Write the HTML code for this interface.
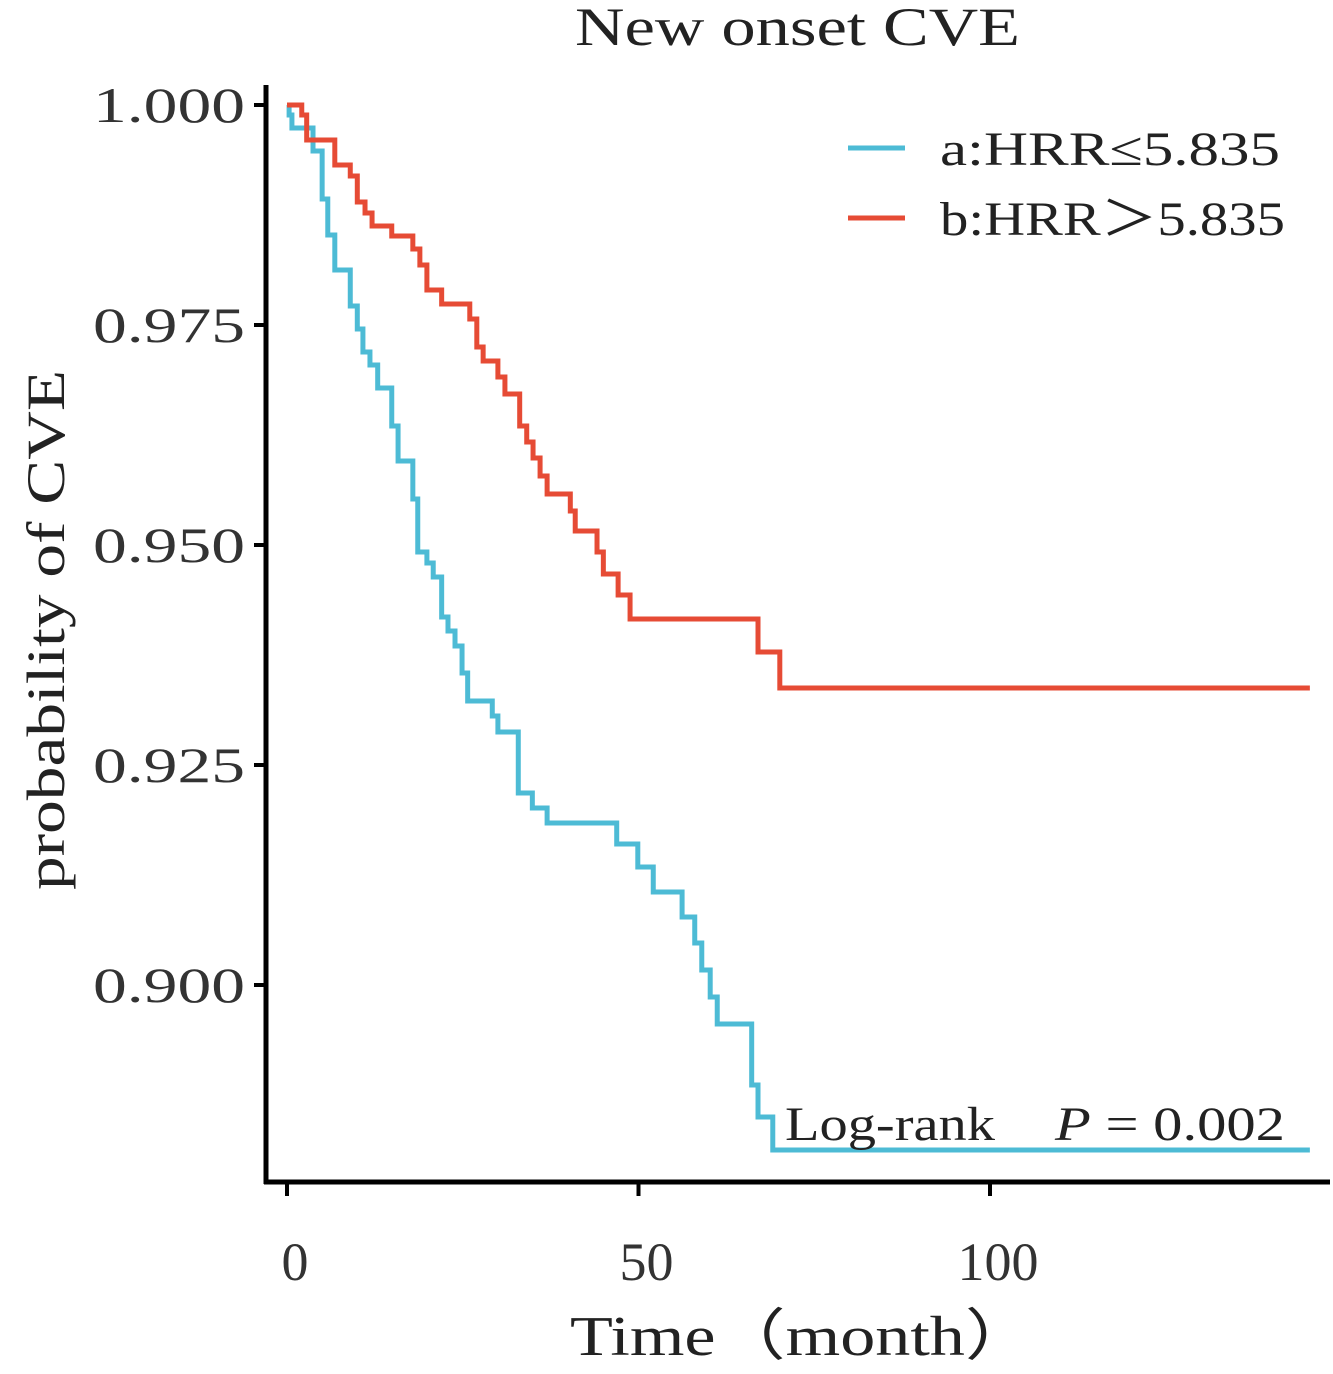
<!DOCTYPE html>
<html><head><meta charset="utf-8"><style>
html,body{margin:0;padding:0;background:#fff;}
svg text{font-family:"Liberation Serif",serif;}
</style></head><body>
<svg id="chart" width="1333" height="1369" viewBox="0 0 1333 1369" xmlns="http://www.w3.org/2000/svg">
<text x="575" y="45" font-size="54" textLength="445" lengthAdjust="spacingAndGlyphs" fill="#222">New onset CVE</text>
<text transform="translate(64,630) rotate(-90)" font-size="54" text-anchor="middle" textLength="520" lengthAdjust="spacingAndGlyphs" fill="#222">probability of CVE</text>
<text x="570" y="1355" font-size="56" textLength="465" lengthAdjust="spacingAndGlyphs" fill="#222">Time（month）</text>
<g id="axes"></g>
<g id="curves"></g>
<g>
<line x1="848" y1="148" x2="905" y2="148" stroke="#4dbbd5" stroke-width="5"/>
<text x="940" y="165" font-size="48" textLength="340" lengthAdjust="spacingAndGlyphs" fill="#222">a:HRR≤5.835</text>
<line x1="848" y1="218" x2="905" y2="218" stroke="#e64b35" stroke-width="5"/>
<text x="940" y="235" font-size="48" textLength="345" lengthAdjust="spacingAndGlyphs" fill="#222">b:HRR＞5.835</text>
</g>
<text x="785" y="1140" font-size="48" textLength="210" lengthAdjust="spacingAndGlyphs" fill="#222">Log-rank</text>
<text x="1055" y="1140" font-size="48" textLength="230" lengthAdjust="spacingAndGlyphs" fill="#222"><tspan font-style="italic">P</tspan> = 0.002</text>
</svg>
<script>
const xTicks = [0, 50, 100];
const xTickLabels = ["0", "50", "100"];
const yTicks = [1.000, 0.975, 0.950, 0.925, 0.900];
const yTickLabels = ["1.000", "0.975", "0.950", "0.925", "0.900"];
const tEnd = 145.5;
const timesA = [0, 0.3, 0.7, 3.7, 5.0, 5.8, 6.8, 9.0, 10.0, 10.8, 11.8, 12.9, 14.9, 15.8, 17.9, 18.6, 19.9, 20.8, 22.0, 22.9, 23.9, 24.9, 25.7, 29.2, 30.0, 32.9, 34.9, 37.0, 46.9, 49.9, 52.1, 56.2, 58.0, 59.0, 60.2, 61.2, 66.1, 67.0, 69.1];
const survA = [1.0, 0.99886, 0.99739, 0.99477, 0.98932, 0.98523, 0.98125, 0.97716, 0.97455, 0.97193, 0.97045, 0.96784, 0.96352, 0.95955, 0.95523, 0.94920, 0.94795, 0.94636, 0.94182, 0.94023, 0.93852, 0.93545, 0.93227, 0.93057, 0.92875, 0.92182, 0.92011, 0.91841, 0.91602, 0.91341, 0.91057, 0.90773, 0.90477, 0.90170, 0.89864, 0.89557, 0.88864, 0.88500, 0.88125];
const timesB = [0, 2.1, 2.8, 6.8, 9.0, 10.0, 11.1, 12.1, 14.9, 17.9, 18.9, 19.9, 22.0, 26.0, 27.0, 27.9, 30.0, 31.0, 33.1, 34.1, 35.0, 36.0, 37.0, 40.3, 41.0, 44.1, 45.0, 47.1, 48.8, 67.0, 70.1];
const survB = [1.0, 0.99886, 0.99602, 0.99318, 0.99193, 0.98898, 0.98773, 0.98625, 0.98511, 0.98364, 0.98182, 0.97898, 0.97739, 0.97568, 0.97250, 0.97091, 0.96909, 0.96716, 0.96352, 0.96170, 0.95989, 0.95784, 0.95580, 0.95386, 0.95159, 0.94920, 0.94670, 0.94432, 0.94159, 0.93784, 0.93375];

const NS = "http://www.w3.org/2000/svg";
const xs = t => 287 + t * 7.03;
const ys = v => 105 + (1 - v) * 8800;
function mk(tag, attrs, parent) {
  const e = document.createElementNS(NS, tag);
  for (const k in attrs) e.setAttribute(k, attrs[k]);
  parent.appendChild(e);
  return e;
}
const axes = document.getElementById("axes");
let el = mk("line", {x1: 266, y1: 85, x2: 266, y2: 1184, stroke: "#000", "stroke-width": 5}, axes);


el = mk("line", {x1: 264, y1: 1182, x2: 1330, y2: 1182, stroke: "#000", "stroke-width": 5}, axes);


yTicks.forEach((v, i) => {
  const t = mk("line", {x1: 254, y1: ys(v), x2: 266, y2: ys(v), stroke: "#000", "stroke-width": 4}, axes);
  
  
  const l = mk("text", {x: 93, y: ys(v) + 17, "font-size": 50, textLength: 152, lengthAdjust: "spacingAndGlyphs", fill: "#333"}, axes);
  l.textContent = yTickLabels[i];
  
  
});
xTicks.forEach((v, i) => {
  const t = mk("line", {x1: xs(v), y1: 1182, x2: xs(v), y2: 1196, stroke: "#000", "stroke-width": 4}, axes);
  
  
  const l = mk("text", {x: xs(v) + 8, y: 1280, "font-size": 54, "text-anchor": "middle", fill: "#333"}, axes);
  l.textContent = xTickLabels[i];
  
  
});
function stepPath(times, surv) {
  let d = "M" + xs(times[0]) + "," + ys(surv[0]);
  for (let i = 1; i < times.length; i++) {
    d += " H" + xs(times[i]) + " V" + ys(surv[i]);
  }
  d += " H" + xs(tEnd);
  return d;
}
const curves = document.getElementById("curves");
el = mk("path", {d: stepPath(timesA, survA), fill: "none", stroke: "#4dbbd5", "stroke-width": 5}, curves);


el = mk("path", {d: stepPath(timesB, survB), fill: "none", stroke: "#e64b35", "stroke-width": 5}, curves);


</script>
</body></html>
